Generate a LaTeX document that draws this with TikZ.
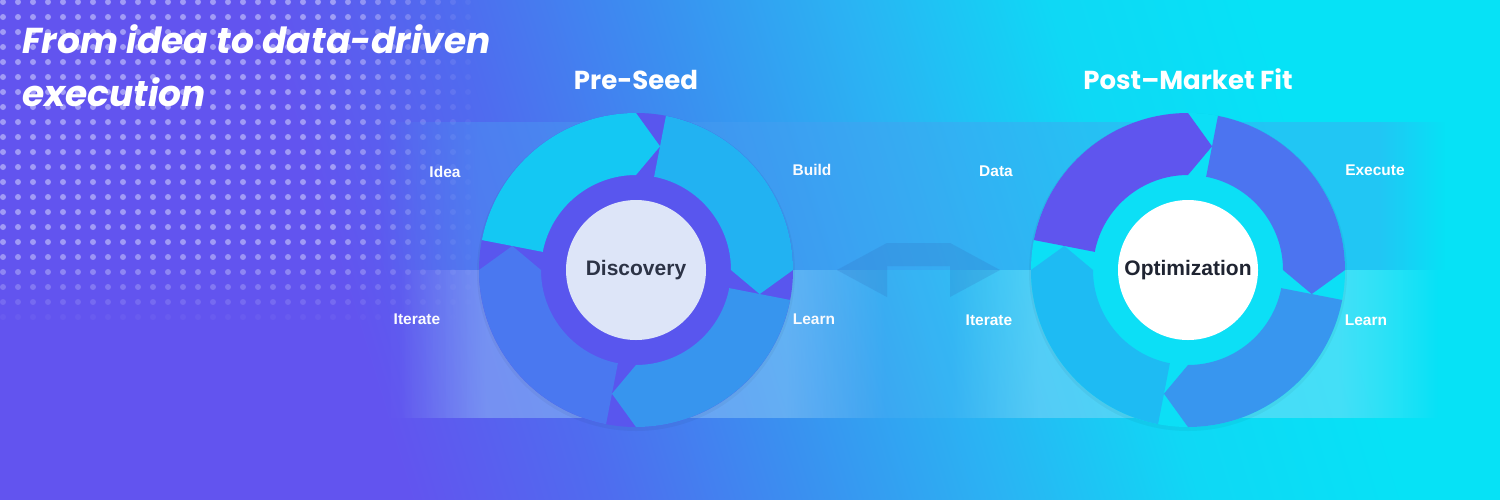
\documentclass[tikz,border=0pt]{standalone}
\usepackage{fontspec}
\setmainfont{Liberation Sans}
\newfontfamily\popfont{Poppins}
\usetikzlibrary{calc,fadings}

\definecolor{bgPurple}{HTML}{6254EF}
\definecolor{bgIndigo}{HTML}{4F6CEF}
\definecolor{bgBlue}{HTML}{3A90F0}
\definecolor{bgSky}{HTML}{2AB4F3}
\definecolor{bgAqua}{HTML}{0FD8F5}
\definecolor{bgCyan}{HTML}{06E2F6}
\definecolor{dotLilac}{HTML}{C4C2FA}
\definecolor{bandBlue}{HTML}{4A9EF2}
\definecolor{glowSky}{HTML}{A0DCFA}
\definecolor{preRing}{HTML}{5956EE}
\definecolor{preIdea}{HTML}{14C8F3}
\definecolor{preBuild}{HTML}{22B2F2}
\definecolor{preLearn}{HTML}{3795EE}
\definecolor{preIterate}{HTML}{4A78F0}
\definecolor{preHub}{HTML}{DDE5F8}
\definecolor{postRing}{HTML}{0CDFF6}
\definecolor{postData}{HTML}{5F55EE}
\definecolor{postExecute}{HTML}{4C74F0}
\definecolor{postLearn}{HTML}{3896EF}
\definecolor{postIterate}{HTML}{1EBBF3}
\definecolor{hubInk}{HTML}{2C3346}
\definecolor{swapBlue}{HTML}{3F8AEE}

\pgfdeclarehorizontalshading{bgshade}{100bp}{color(0bp)=(bgPurple); color(40bp)=(bgPurple);
  color(44.7bp)=(bgIndigo); color(49.5bp)=(bgBlue); color(54.3bp)=(bgSky);
  color(59bp)=(bgAqua); color(64bp)=(bgCyan); color(100bp)=(bgCyan)}

\tikzfading[name=fadein, left color=transparent!100, right color=transparent!0]
\tikzfading[name=fadeout, left color=transparent!0, right color=transparent!100]

\tikzset{
  seglabel/.style={font=\fontsize{15.5}{18}\selectfont\bfseries,anchor=base,inner sep=0pt},
  phase/.style={font=\popfont\fontsize{26}{30}\selectfont\bfseries,text=white,anchor=base,inner sep=0pt},
  hub/.style={circle,minimum size=140pt,inner sep=0pt,font=\fontsize{21}{25}\selectfont\bfseries},
  glow/.style={glowSky,fill opacity=.35}
}

% one curved arrow of a cycle ring: centre, tail angle, colour
\newcommand\ringseg[3]{%
  \fill[#3,shift={(#1)}] ({#2}:157) arc[start angle=#2,end angle=#2+79,radius=157]
    -- ({#2+90}:126) -- ({#2+79}:95) arc[start angle=#2+79,end angle=#2,radius=95] -- cycle;}

% light glow under a cycle, left and right of its centre
\newcommand\cycleglow[1]{%
  \fill[glow,path fading=fadein,shift={(#1)}] (-238,0) rectangle (-150,148);
  \fill[glow,shift={(#1)}] (-150,0) rectangle (150,148);
  \fill[glow,path fading=fadeout,shift={(#1)}] (150,0) rectangle (250,148);}

\begin{document}
\begin{tikzpicture}[x=1pt,y=-1pt]
\useasboundingbox (0,0) rectangle (1500,499);
\coordinate (preC) at (636,270);
\coordinate (postC) at (1188,270);

% background
\begin{scope}
\clip (0,0) rectangle (1500,499);
\shade[shading=bgshade,shading angle=17] (-250,-750) rectangle (1750,1250);

\foreach \i in {0,...,31}{
  \foreach \j in {0,...,21}{
    \pgfmathsetmacro\dx{3+15*\i}
    \pgfmathsetmacro\dy{2+15*\j}
    \pgfmathsetmacro\op{0.65*min(1,max(0,(485-\dx)/150))*min(1,max(0,(325-\dy)/75))}
    \fill[dotLilac,opacity=\op] (\dx,\dy) circle[radius=3];
  }
}

% band behind the two cycles
\fill[bandBlue,fill opacity=.4,path fading=fadein] (380,122) rectangle (480,270);
\fill[bandBlue,fill opacity=.4] (480,122) rectangle (1380,270);
\fill[bandBlue,fill opacity=.4,path fading=fadeout] (1380,122) rectangle (1445,270);
\fill[white,fill opacity=.05,path fading=fadein] (380,270) rectangle (470,418);
\fill[white,fill opacity=.05] (470,270) rectangle (1380,418);
\fill[white,fill opacity=.05,path fading=fadeout] (1380,270) rectangle (1445,418);

\cycleglow{preC}
\cycleglow{postC}
\end{scope}

\node[anchor=base west,align=left,inner sep=0pt,text=white,
  font=\popfont\fontsize{36}{53}\selectfont\bfseries\itshape] (headline) at (22,106)
  {From idea to data-driven\\execution};

\node[phase] (preseed) at (636,89) {Pre-Seed};
\node[phase] (postfit) at (1188,89) {Post–Market Fit};

% pre-seed cycle
\fill[black,opacity=.04] ($(preC)+(0,2)$) circle[radius=159];
\fill[preRing] (preC) circle[radius=157];
\ringseg{preC}{191}{preIdea}
\ringseg{preC}{281}{preBuild}
\ringseg{preC}{11}{preLearn}
\ringseg{preC}{101}{preIterate}
\node[hub,fill=preHub,text=hubInk] (discovery) at (preC) {Discovery};

\node[seglabel,text=white!85!preHub] (idea) at (445,177) {Idea};
\node[seglabel,text=white!85!preHub] (build) at (812,175) {Build};
\node[seglabel,text=white!85!preHub] (learnA) at (814,324) {Learn};
\node[seglabel,text=white!85!preHub] (iterateA) at (417,324) {Iterate};

% post-market fit cycle
\fill[black,opacity=.04] ($(postC)+(0,2)$) circle[radius=159];
\fill[postRing] (postC) circle[radius=157];
\ringseg{postC}{191}{postData}
\ringseg{postC}{281}{postExecute}
\ringseg{postC}{11}{postLearn}
\ringseg{postC}{101}{postIterate}
\node[hub,fill=white,text=hubInk!70!black] (optimization) at (postC) {Optimization};

\node[seglabel,text=white] (data) at (996,176) {Data};
\node[seglabel,text=white] (execute) at (1375,175) {Execute};
\node[seglabel,text=white] (learnB) at (1366,325) {Learn};
\node[seglabel,text=white] (iterateB) at (989,325) {Iterate};

% two-way arrow between the cycles
\coordinate (swapL) at (837,270);
\coordinate (swapR) at (1000,270);
\fill[black,opacity=.05,shift={(1,2)}] (swapL) -- ++(50,-27) -- ++(63,0) -- (swapR)
  -- ++(-50,27) -- ++(0,-31) -- ++(-63,0) -- ++(0,31) -- cycle;
\fill[swapBlue,fill opacity=.18] (swapL) -- ++(50,-27) -- ++(63,0) -- (swapR)
  -- ++(-50,27) -- ++(0,-31) -- ++(-63,0) -- ++(0,31) -- cycle;
\end{tikzpicture}
\end{document}
